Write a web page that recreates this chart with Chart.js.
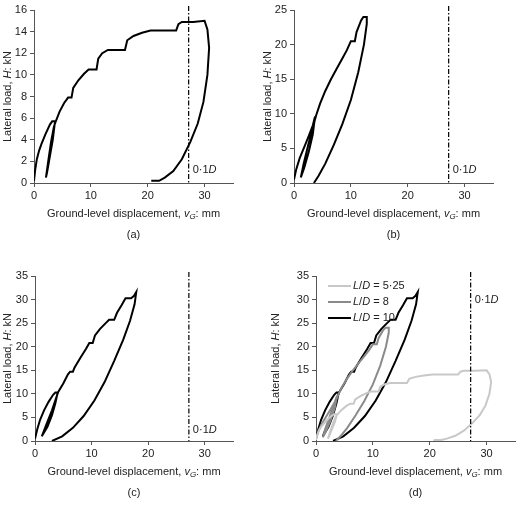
<!DOCTYPE html>
<html>
<head>
<meta charset="utf-8">
<script src="https://cdn.jsdelivr.net/npm/chart.js@4"></script>
<style>
  body { margin: 0; background: #fff; }
  #grid { display: grid; grid-template-columns: 260px 260px; grid-template-rows: 256px 256px; width: 520px; }
  .cell { position: relative; width: 260px; height: 256px; }
</style>
</head>
<body>
<div id="grid">
  <div class="cell"><canvas id="ca"></canvas></div>
  <div class="cell"><canvas id="cb"></canvas></div>
  <div class="cell"><canvas id="cc"></canvas></div>
  <div class="cell"><canvas id="cd"></canvas></div>
</div>
<script>
// L/D = 5.25 (panel a)
const curveA = [[0,0.2],[0.2,1.2],[0.5,2.2],[0.9,3],[1.3,3.6],[2,4.5],[2.8,5.4],[3.2,5.7],[3.7,5.7],
  [3.3,4],[2.8,2.5],[2.3,1],[2.1,0.5],[2.5,2],[3,3.8],[3.5,5.2],[3.9,5.8],
  [4.5,6.6],[5.3,7.4],[6,7.9],[6.6,7.9],[6.9,8.8],[7.8,9.5],[8.8,10.1],[9.6,10.5],[11,10.5],
  [11.3,11.5],[12,12],[13,12.3],[16,12.3],[16.4,13.2],[17.5,13.6],[19,13.9],[20.5,14.1],[25,14.1],
  [25.4,14.7],[26,14.9],[28,14.9],[30,15],[30.5,14.2],[30.8,12.5],[30.5,10],[29.8,7.5],[28.8,5.5],
  [27.5,3.8],[26,2.2],[24.5,1.1],[23,0.5],[22,0.2],[20.8,0.2],[20.8,0.3]];
// L/D = 8 (panel b)
const curveB = [[0,0.5],[0.4,2],[1,3.6],[1.8,5.2],[2.6,6.8],[3.3,8.3],[3.7,9.6],
  [3.3,7],[2.6,4.5],[1.8,2.2],[1.2,0.8],[1.7,2.8],[2.5,5.5],[3.3,8],[3.9,9.8],
  [4.6,11.5],[5.5,13.3],[6.5,15],[7.5,16.5],[8.5,18],[9.3,19.2],[10,20.5],[10.7,20.5],
  [11,21.8],[11.8,23.5],[12.2,24],[12.8,24],[12.8,23],[12.3,20],[11.3,16],[10,12],[8.5,8.5],
  [7,5.5],[5.5,2.8],[4.3,1],[3.5,0]];
// L/D = 10 (panel c)
const curveC = [[0,0.5],[0.4,2.5],[0.9,4.5],[1.6,6.5],[2.4,8.3],[3.2,9.8],[3.6,10.3],[4,10.3],
  [3.6,8],[3,5.5],[2.2,3],[1.2,1],[2,3.5],[3,6.5],[3.7,9],[4.1,10.4],
  [5,12.2],[5.8,14.1],[6.2,14.7],[6.7,14.7],[7,15.6],[8,17.6],[9,19.5],[9.6,20.8],[10.2,20.8],
  [10.6,22.4],[11.5,23.8],[12.5,25],[13.1,25.7],[14,25.7],[14.5,27.2],[15.3,28.8],[16,30.3],
  [17,30.3],[17.5,30.8],[17.9,31.6],[17.6,29],[16.8,25.5],[15.6,21.5],[14,17],[12.3,12.5],
  [10.5,8.6],[8.6,5.3],[6.7,2.8],[4.8,1],[3,0]];
const dispTicks = [0, 10, 20, 30];
const refLine = 27.2; // 0.1D

const FONT = '"Liberation Sans", Arial, sans-serif';

function runs(ctx, parts, x, y, align) {
  // parts: [text, italic, sub]
  let w = 0;
  parts.forEach(p => { ctx.font = (p[1] ? 'italic ' : '') + (p[2] ? '8px ' : '11px ') + FONT; w += ctx.measureText(p[0]).width; });
  let cx = align === 'center' ? x - w / 2 : x;
  parts.forEach(p => {
    ctx.font = (p[1] ? 'italic ' : '') + (p[2] ? '8px ' : '11px ') + FONT;
    ctx.fillText(p[0], cx, p[2] ? y + 3 : y);
    cx += ctx.measureText(p[0]).width;
  });
}

const decor = {
  id: 'decor',
  afterDraw(chart) {
    const o = chart.options.plugins.decor;
    const ctx = chart.ctx, xs = chart.scales.x, ca = chart.chartArea;
    ctx.save();
    ctx.fillStyle = '#222';
    ctx.textBaseline = 'middle';
    // reference line
    const rx = xs.getPixelForValue(refLine);
    ctx.strokeStyle = '#000'; ctx.lineWidth = 1.2;
    ctx.setLineDash([5, 2, 1.5, 2]);
    ctx.beginPath(); ctx.moveTo(rx, ca.top - 4); ctx.lineTo(rx, ca.bottom); ctx.stroke();
    ctx.setLineDash([]);
    runs(ctx, [['0·1', false], ['D', true]], rx + 4, o.refY, 'left');
    const mid = (xs.getPixelForValue(0) + xs.getPixelForValue(35)) / 2;
    // x title
    runs(ctx, [['Ground-level displacement, ', false], ['v', true], ['G', true, true], [': mm', false]],
      mid, ca.bottom + 31, 'center');
    // caption
    runs(ctx, [[o.caption, false]], mid, ca.bottom + 52, 'center');
    // y title
    ctx.save();
    ctx.translate(o.yTitleX, (ca.top + ca.bottom) / 2);
    ctx.rotate(-Math.PI / 2);
    runs(ctx, [['Lateral load, ', false], ['H', true], [': kN', false]], 0, 0, 'center');
    ctx.restore();
    // legend
    if (o.legend) {
      o.legend.forEach((l, i) => {
        const y = ca.top + 10 + i * 16;
        ctx.strokeStyle = l[1]; ctx.lineWidth = 2;
        ctx.beginPath(); ctx.moveTo(ca.left + 12, y); ctx.lineTo(ca.left + 35, y); ctx.stroke();
        runs(ctx, [['L', true], ['/', false], ['D', true], [' = ' + l[0], false]], ca.left + 37, y, 'left');
      });
    }
    ctx.restore();
  }
};

function ds(pts, color) {
  return { data: pts.map(p => ({ x: p[0], y: p[1] })), showLine: true, borderColor: color,
    borderWidth: 2, pointRadius: 0, tension: 0, fill: false };
}

function make(id, sets, yMax, yStep, leftW, right, top, bottomH, o) {
  return new Chart(document.getElementById(id), {
    type: 'scatter',
    data: { datasets: sets },
    plugins: [decor],
    options: {
      responsive: false, animation: false,
      layout: { padding: { top: top, right: right, left: 0, bottom: 0 } },
      plugins: { legend: { display: false }, tooltip: { enabled: false }, decor: o },
      scales: {
        x: { type: 'linear', min: 0, max: 35,
          afterBuildTicks: s => { s.ticks = dispTicks.map(v => ({ value: v })); },
          afterFit: s => { s.height = bottomH; },
          border: { color: '#555', width: 1 },
          grid: { drawOnChartArea: false, tickLength: 4, color: '#555' },
          ticks: { color: '#222', font: { family: FONT, size: 11 }, padding: 2, maxRotation: 0 } },
        y: { min: 0, max: yMax,
          afterFit: s => { s.width = leftW; },
          border: { color: '#555', width: 1 },
          grid: { drawOnChartArea: false, tickLength: 4, color: '#555' },
          ticks: { stepSize: yStep, color: '#222', font: { family: FONT, size: 11 }, padding: 3 } }
      }
    }
  });
}

['ca','cb','cc','cd'].forEach(id => { const c = document.getElementById(id); c.width = 260; c.height = 256; });

make('ca', [ds(curveA, '#000')], 16, 2, 34, 27, 10, 73, { caption: '(a)', refY: 170, yTitleX: 8 });
make('cb', [ds(curveB, '#000')], 25, 5, 34, 27, 10, 73, { caption: '(b)', refY: 170, yTitleX: 8 });
make('cc', [ds(curveC, '#000')], 35, 5, 35, 27, 20, 71, { caption: '(c)', refY: 174, yTitleX: 8 });
make('cd', [ds(curveA, '#c8c8c8'), ds(curveB, '#8a8a8a'), ds(curveC, '#000')], 35, 5, 56, 5, 20, 71,
  { caption: '(d)', refY: 44, yTitleX: 16, legend: [['5·25', '#c8c8c8'], ['8', '#8a8a8a'], ['10', '#000']] });
</script>
</body>
</html>
